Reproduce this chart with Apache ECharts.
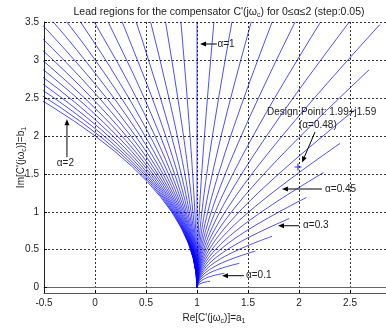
<!DOCTYPE html>
<html>
<head>
<meta charset="utf-8">
<script src="https://cdn.jsdelivr.net/npm/echarts@6/dist/echarts.min.js"></script>
<style>
  html, body { margin: 0; padding: 0; background: #fff; }
  #chart { width: 386px; height: 331px; }
</style>
</head>
<body>
<div id="chart"></div>
<script>
// alpha values of the family (0 to 2, step 0.05)
const alphas = [0, 0.05, 0.1, 0.15, 0.2, 0.25, 0.3, 0.35, 0.4, 0.45, 0.5,
  0.55, 0.6, 0.65, 0.7, 0.75, 0.8, 0.85, 0.9, 0.95, 1,
  1.05, 1.1, 1.15, 1.2, 1.25, 1.3, 1.35, 1.4, 1.45, 1.5,
  1.55, 1.6, 1.65, 1.7, 1.75, 1.8, 1.85, 1.9, 1.95, 2];
// normalised frequency w*T along each curve
const wT = [0, 0.1, 0.2, 0.3, 0.4, 0.5, 0.6, 0.7, 0.8, 0.9, 1, 1.1, 1.2, 1.3, 1.4,
  1.5, 1.6, 1.7, 1.8, 1.9, 2, 2.5, 3, 3.5, 4, 4.5, 5, 5.5, 6, 6.5, 7, 7.5, 8,
  8.5, 9, 9.5, 10, 10.5, 11, 11.5, 12];
const designPoint = [1.99, 1.59];
const yTicks = [0, 0.5, 1, 1.5, 2, 2.5, 3, 3.5];

// C'(jw) = (1 + j wT)^alpha
function curve(a) {
  return wT.map(w => {
    const m = Math.pow(Math.sqrt(1 + w * w), a);
    const th = a * Math.atan(w);
    return [m * Math.cos(th), m * Math.sin(th)];
  });
}

const series = alphas.map(a => ({
  type: "line",
  data: curve(a),
  showSymbol: false,
  silent: true,
  clip: true,
  lineStyle: { color: "#0000ff", width: 0.7 }
}));
series.push({
  type: "scatter",
  data: [designPoint],
  symbol: "path://M-1,0L1,0M0,-1L0,1",
  symbolSize: 7,
  itemStyle: { color: "none", borderColor: "#0000ff", borderWidth: 1.2 }
});

const chart = echarts.init(document.getElementById("chart"));
const font = "Liberation Sans, Arial, sans-serif";
const sub = { fontSize: 7, fontFamily: font, color: "#222", padding: [6, 0, 0, 0] };

chart.setOption({
  animation: false,
  title: {
    text: "Lead regions for the compensator C'(jω{s|c}) for 0≤α≤2 (step:0.05)",
    left: 214,
    top: 1,
    textAlign: "center",
    textStyle: {
      fontSize: 10.5, fontWeight: "normal", color: "#222", fontFamily: font,
      rich: { s: sub }
    }
  },
  grid: { left: 44, top: 22, width: 357, height: 271, outerBoundsMode: "none", containLabel: false },
  xAxis: [{
    type: "value", min: -0.5, max: 3, interval: 0.5,
    axisLine: { onZero: false, lineStyle: { color: "#555", width: 1 } },
    axisTick: { inside: true, length: 3, lineStyle: { color: "#000" } },
    axisLabel: { fontSize: 10, color: "#222", fontFamily: font, margin: 5 },
    splitLine: { show: true, lineStyle: { color: "#000", type: [2, 2], width: 0.8 } }
  }, {
    type: "value", min: -0.5, max: 3, position: "top",
    axisLine: { show: true, lineStyle: { color: "#666", width: 1 } },
    axisTick: { show: false }, axisLabel: { show: false }, splitLine: { show: false }
  }],
  yAxis: {
    type: "value", min: -0.07, max: 3.5,
    name: "Im[C'(jω{s|c})]=b{s|1}",
    nameLocation: "middle", nameGap: 16, nameRotate: 90, nameMoveOverlap: false,
    nameTextStyle: { fontSize: 10, color: "#222", fontFamily: font, rich: { s: sub } },
    axisLine: { show: true, onZero: false, lineStyle: { color: "#222", width: 1 } },
    axisTick: { inside: true, length: 3, customValues: yTicks, lineStyle: { color: "#000" } },
    axisLabel: { fontSize: 10, color: "#222", fontFamily: font, margin: 5, customValues: yTicks },
    splitLine: { show: true, lineStyle: { color: "#000", type: [2, 2], width: 0.8 } }
  },
  series: series
});

// annotations in data coordinates: text anchor, arrow tail and arrow head
const notes = [
  { text: "α=1", at: [1.2, 3.21], align: "left", from: [1.195, 3.21], to: [1.03, 3.21] },
  { text: "α=2", at: [-0.29, 1.64], align: "center", from: [-0.275, 1.72], to: [-0.275, 2.22] },
  { text: "Design Point: 1.99+j1.59", at: [1.686, 2.316], align: "left" },
  { text: "(α=0.48)", at: [2.0, 2.145], align: "left", from: [2.157, 2.05], to: [2.03, 1.65] },
  { text: "α=0.45", at: [2.255, 1.30], align: "left", from: [2.225, 1.30], to: [1.833, 1.30] },
  { text: "α=0.3", at: [2.04, 0.816], align: "left", from: [2.0, 0.816], to: [1.794, 0.816] },
  { text: "α=0.1", at: [1.48, 0.158], align: "left", from: [1.46, 0.158], to: [1.245, 0.158] }
];

const px = p => chart.convertToPixel({ gridIndex: 0 }, p);
const graphics = [];
notes.forEach(n => {
  const t = px(n.at);
  graphics.push({
    type: "text", x: t[0], y: t[1],
    style: { text: n.text, fill: "#222", font: "10px " + font, textAlign: n.align, textVerticalAlign: "middle" }
  });
  if (n.from) {
    const a = px(n.from), b = px(n.to);
    const ang = Math.atan2(b[1] - a[1], b[0] - a[0]);
    const L = 6, W = 2.5;
    const bx = b[0] - L * Math.cos(ang), by = b[1] - L * Math.sin(ang);
    graphics.push({
      type: "line",
      shape: { x1: a[0], y1: a[1], x2: bx, y2: by },
      style: { stroke: "#000", lineWidth: 1 }
    });
    graphics.push({
      type: "polygon",
      shape: { points: [[b[0], b[1]],
        [bx + W * Math.sin(ang), by - W * Math.cos(ang)],
        [bx - W * Math.sin(ang), by + W * Math.cos(ang)]] },
      style: { fill: "#000" }
    });
  }
});
// x-axis title, centred under the visible part of the axes
graphics.push({
  type: "text", x: 214, y: 318,
  style: {
    text: "Re[C'(jω{s|c})]=a{s|1}", fill: "#222", font: "10px " + font,
    textAlign: "center", textVerticalAlign: "middle",
    rich: { s: { fontSize: 7, fontFamily: font, fill: "#222", padding: [6, 0, 0, 0] } }
  }
});
chart.setOption({ graphic: graphics });
</script>
</body>
</html>
